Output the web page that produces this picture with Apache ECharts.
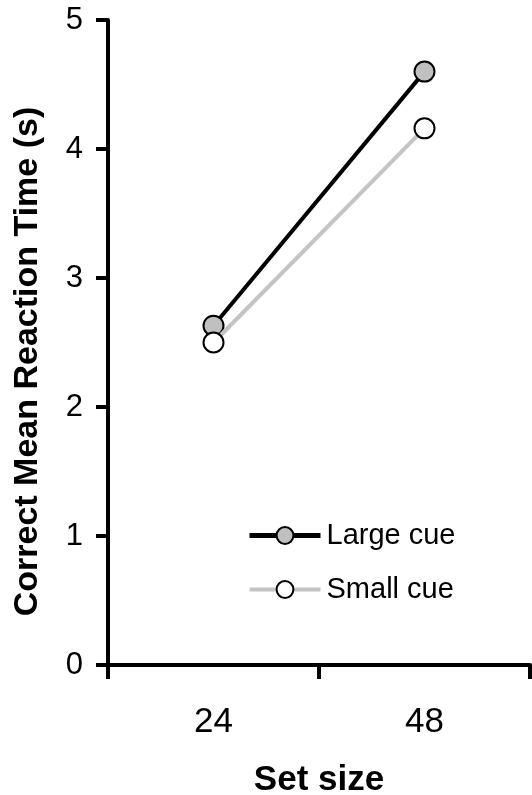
<!DOCTYPE html>
<html>
<head>
<meta charset="utf-8">
<script src="https://cdn.jsdelivr.net/npm/echarts@6/dist/echarts.min.js"></script>
<style>html,body{margin:0;padding:0;background:#fff}#c{width:532px;height:795px}</style>
</head>
<body>
<div id="c"></div>
<script>
var categories = ['24', '48'];
var largeCue = [2.63, 4.60];
var smallCue = [2.50, 4.16];
var yTicks = [0, 1, 2, 3, 4, 5];

var chart = echarts.init(document.getElementById('c'), null, {renderer: 'canvas'});
var font = '"Liberation Sans", Arial, sans-serif';
chart.setOption({
  animation: false,
  backgroundColor: '#fff',
  grid: {left: 108, right: 2, top: 20, bottom: 130, containLabel: false, outerBoundsMode: 'none'},
  legend: {
    orient: 'vertical', left: 242, top: 516, itemWidth: 71, itemHeight: 21, itemGap: 25,
    textStyle: {fontFamily: font, fontSize: 29, color: '#000', lineHeight: 21, padding: [0, 0, 0, 1]},
    data: [
      {name: 'Large cue', lineStyle: {width: 5, color: '#000'}, itemStyle: {color: '#c0c0c0', borderColor: '#000', borderWidth: 2}},
      {name: 'Small cue', lineStyle: {width: 4, color: '#c4c4c4'}, itemStyle: {color: '#fff', borderColor: '#000', borderWidth: 2}}
    ]
  },
  xAxis: {
    type: 'category', data: categories, boundaryGap: true,
    name: 'Set size', nameLocation: 'middle', nameGap: 98,
    nameTextStyle: {fontFamily: font, fontSize: 35, fontWeight: 'bold', color: '#000'},
    axisLine: {lineStyle: {color: '#000', width: 4}},
    axisTick: {show: true, length: 14, lineStyle: {color: '#000', width: 4}, alignWithLabel: false},
    axisLabel: {fontFamily: font, fontSize: 35, color: '#000', margin: 40},
    splitLine: {show: false}
  },
  yAxis: {
    type: 'value', min: yTicks[0], max: yTicks[yTicks.length - 1], interval: 1,
    name: 'Correct Mean Reaction Time (s)', nameLocation: 'middle', nameGap: 63,
    nameTextStyle: {fontFamily: font, fontSize: 34, fontWeight: 'bold', color: '#000', padding: [0, 38, 0, 0]},
    axisLine: {show: true, lineStyle: {color: '#000', width: 4}},
    axisTick: {show: true, length: 12, lineStyle: {color: '#000', width: 4}},
    axisLabel: {fontFamily: font, fontSize: 31, color: '#000', margin: 25},
    splitLine: {show: false}
  },
  series: [
    {
      name: 'Large cue', type: 'line', data: largeCue,
      symbol: 'circle', symbolSize: 20, z: 2,
      lineStyle: {color: '#000', width: 4},
      itemStyle: {color: '#c0c0c0', borderColor: '#000', borderWidth: 2}
    },
    {
      name: 'Small cue', type: 'line', data: smallCue,
      symbol: 'circle', symbolSize: 20, z: 3,
      lineStyle: {color: '#c4c4c4', width: 4},
      itemStyle: {color: '#fff', borderColor: '#000', borderWidth: 2}
    }
  ]
});
</script>
</body>
</html>
